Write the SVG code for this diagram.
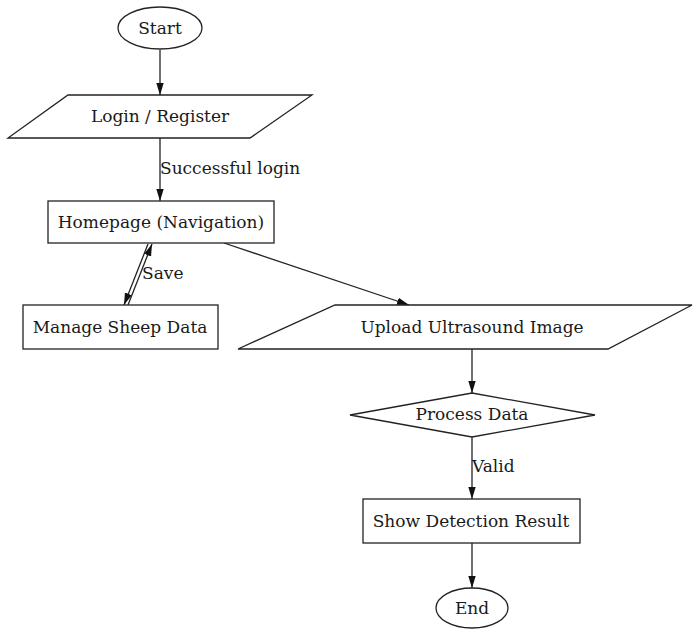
<svg xmlns="http://www.w3.org/2000/svg" width="694" height="629" viewBox="0 0 694 629">
<style>
.n{fill:#fff;stroke:#222;stroke-width:1.3}
.e{fill:none;stroke:#222;stroke-width:1.3}
text{font-family:"DejaVu Serif","Liberation Serif",serif;font-size:17px;fill:#1a1a1a;text-anchor:middle;dominant-baseline:central}
.l{text-anchor:start}
</style>
<defs>
<marker id="a" viewBox="0 0 12 10" refX="12" refY="5" markerWidth="12" markerHeight="10" markerUnits="userSpaceOnUse" orient="auto">
<path d="M0,1.3 L12,5 L0,8.7 Z" fill="#111"/>
</marker>
</defs>
<rect width="694" height="629" fill="#fff"/>
<g id="edges">
<line class="e" x1="160" y1="50" x2="160" y2="95" marker-end="url(#a)"/>
<line class="e" x1="160" y1="138" x2="160" y2="201" marker-end="url(#a)"/>
<text class="l" x="160" y="168">Successful login</text>
<line class="e" x1="148" y1="244" x2="124" y2="305" marker-end="url(#a)"/>
<line class="e" x1="128" y1="305" x2="152" y2="244" marker-end="url(#a)"/>
<text class="l" x="142" y="273">Save</text>
<line class="e" x1="224" y1="243" x2="409" y2="305" marker-end="url(#a)"/>
<line class="e" x1="472" y1="349" x2="472" y2="393" marker-end="url(#a)"/>
<line class="e" x1="472" y1="437" x2="472" y2="499" marker-end="url(#a)"/>
<text class="l" x="472" y="466">Valid</text>
<line class="e" x1="472" y1="543" x2="472" y2="588" marker-end="url(#a)"/>
</g>
<g id="start"><ellipse class="n" cx="160" cy="28" rx="42" ry="21"/><text x="160" y="28">Start</text></g>
<g id="login"><polygon class="n" points="68,95 312,95 250,138 8,138"/><text x="160" y="116">Login / Register</text></g>
<g id="home"><rect class="n" x="48" y="201" width="226" height="42"/><text x="161" y="222">Homepage (Navigation)</text></g>
<g id="manage"><rect class="n" x="23" y="305" width="195" height="44"/><text x="120" y="327">Manage Sheep Data</text></g>
<g id="upload"><polygon class="n" points="335,305 692,305 608,349 238,349"/><text x="472" y="327">Upload Ultrasound Image</text></g>
<g id="process"><polygon class="n" points="472,393 595,415 472,437 350,415"/><text x="472" y="414">Process Data</text></g>
<g id="result"><rect class="n" x="363" y="499" width="217" height="44"/><text x="471" y="521">Show Detection Result</text></g>
<g id="end"><ellipse class="n" cx="472" cy="608" rx="36" ry="20"/><text x="472" y="608">End</text></g>
</svg>
